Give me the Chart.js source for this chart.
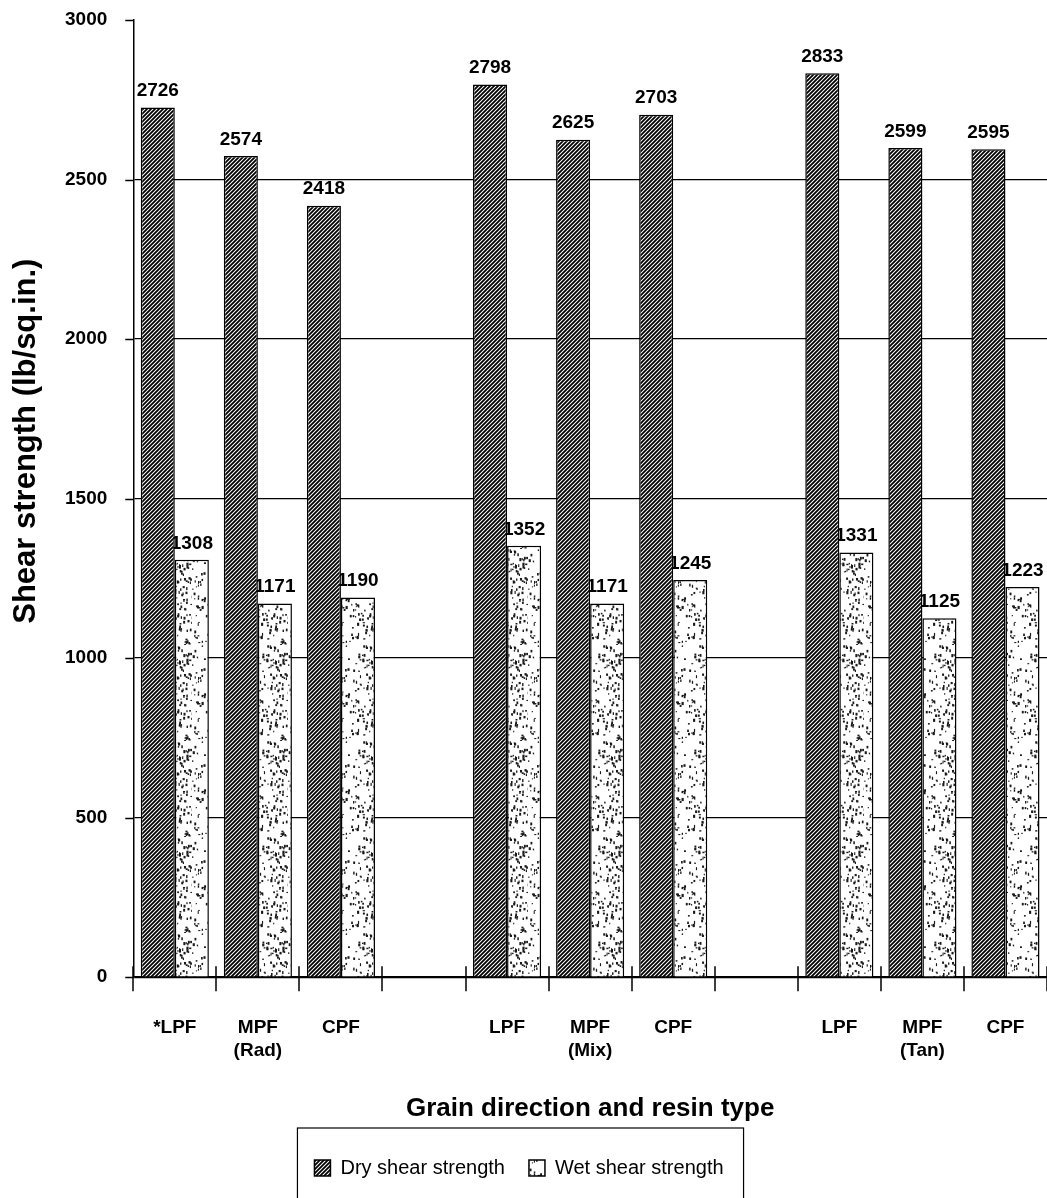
<!DOCTYPE html>
<html>
<head>
<meta charset="utf-8">
<script src="https://cdn.jsdelivr.net/npm/chart.js@4.4.0/dist/chart.umd.min.js"></script>
<style>
    html, body { margin: 0; padding: 0; background: #fff; }
    #wrap { width: 1047px; height: 1198px; }
</style>
</head>
<body>
<div id="wrap"><canvas id="shearChart"></canvas></div>
<script>
const categories = [['*LPF'], ['MPF', '(Rad)'], ['CPF'], [''], ['LPF'], ['MPF', '(Mix)'], ['CPF'], [''], ['LPF'], ['MPF', '(Tan)'], ['CPF']];
const dryShear = [2726, 2574, 2418, null, 2798, 2625, 2703, null, 2833, 2599, 2595];
const wetShear = [1308, 1171, 1190, null, 1352, 1171, 1245, null, 1331, 1125, 1223];
const yTicks = [0, 500, 1000, 1500, 2000, 2500, 3000];

const FONT = '"Liberation Sans", Arial, sans-serif';

document.addEventListener('DOMContentLoaded', () => {
    const canvas = document.getElementById('shearChart');
    const ctx = canvas.getContext('2d');

    // diagonal hatch for the dry bars
    function hatchPattern() {
        const c = document.createElement('canvas');
        c.width = 4; c.height = 4;
        const g = c.getContext('2d');
        g.fillStyle = '#fff';
        g.fillRect(0, 0, 4, 4);
        g.strokeStyle = '#000';
        g.lineWidth = 1.8;
        g.beginPath();
        g.moveTo(-1, 5); g.lineTo(5, -1);
        g.moveTo(-1, 1); g.lineTo(1, -1);
        g.moveTo(3, 5); g.lineTo(5, 3);
        g.stroke();
        return ctx.createPattern(c, 'repeat');
    }

    // speckled fill for the wet bars (fixed seed so it is the same every time)
    function stipplePattern() {
        const c = document.createElement('canvas');
        c.width = 48; c.height = 96;
        const g = c.getContext('2d');
        g.fillStyle = '#fff';
        g.fillRect(0, 0, 48, 96);
        g.fillStyle = '#1a1a1a';
        let seed = 7;
        const rnd = () => (seed = (seed * 16807) % 2147483647) / 2147483647;
        for (let i = 0; i < 190; i++) {
            g.fillRect(rnd() * 48, rnd() * 96, 1 + rnd() * 1.2, 1 + rnd() * 2.2);
        }
        return ctx.createPattern(c, 'repeat');
    }

    const labelFont = 'bold 19px ' + FONT;

    function drawLabels(chart, index) {
        const meta = chart.getDatasetMeta(index);
        const data = chart.data.datasets[index].data;
        const c = chart.ctx;
        c.save();
        c.font = labelFont;
        c.fillStyle = '#000';
        c.textAlign = 'center';
        c.textBaseline = 'bottom';
        meta.data.forEach((bar, i) => {
            if (data[i] == null) return;
            c.fillText(String(data[i]), bar.x, bar.y - 7);
        });
        c.restore();
    }

    // wet labels go down before the dry bars, so the dry bar hides the leading digit
    const valueLabels = {
        id: 'valueLabels',
        afterDatasetDraw(chart, args) {
            if (args.index === 1) drawLabels(chart, 1);
        },
        afterDatasetsDraw(chart) {
            drawLabels(chart, 0);
        },
    };

    // x ticks cross the axis line; y ticks are short stubs left of the axis
    const tickMarks = {
        id: 'tickMarks',
        afterDatasetsDraw(chart) {
            const x = chart.scales.x;
            const y = chart.scales.y;
            const { left, bottom } = chart.chartArea;
            const c = chart.ctx;
            c.save();
            c.strokeStyle = '#000';
            c.lineWidth = 1.5;
            c.beginPath();
            for (let i = 0; i <= categories.length; i++) {
                const px = Math.round(x.getPixelForValue(i - 0.5));
                c.moveTo(px, bottom - 11);
                c.lineTo(px, bottom + 14);
            }
            yTicks.forEach((v) => {
                const py = Math.round(y.getPixelForValue(v)) + 0.5;
                c.moveTo(left - 8, py);
                c.lineTo(left, py);
            });
            c.stroke();
            c.restore();
        },
    };

    const yTitle = {
        id: 'yTitle',
        afterDraw(chart) {
            const c = chart.ctx;
            const y = chart.scales.y;
            c.save();
            c.translate(26, y.getPixelForValue(1680));
            c.rotate(-Math.PI / 2);
            c.font = 'bold 31px ' + FONT;
            c.fillStyle = '#000';
            c.textAlign = 'center';
            c.textBaseline = 'middle';
            c.fillText('Shear strength (lb/sq.in.)', 0, 0);
            c.restore();
        },
    };

    // the legend sits a little left of the page centre in the original
    const legendShift = {
        id: 'legendShift',
        afterLayout(chart) {
            chart.legend.left -= 37;
            chart.legend.right -= 37;
        },
    };

    const legendFrame = {
        id: 'legendFrame',
        afterDraw(chart) {
            const boxes = chart.legend.legendHitBoxes;
            if (!boxes || !boxes.length) return;
            const first = boxes[0];
            const last = boxes[boxes.length - 1];
            const c = chart.ctx;
            c.save();
            c.strokeStyle = '#000';
            c.lineWidth = 1.2;
            c.strokeRect(first.left - 17, first.top - 30, last.left + last.width - first.left + 37, 120);
            c.restore();
        },
    };

    new Chart(canvas, {
        type: 'bar',
        data: {
            labels: categories,
            datasets: [{
                label: 'Dry shear strength',
                data: dryShear,
                backgroundColor: hatchPattern(),
                borderColor: '#000',
                borderWidth: 1.5,
                categoryPercentage: 0.82,
                barPercentage: 1.0,
            }, {
                label: 'Wet shear strength',
                data: wetShear,
                backgroundColor: stipplePattern(),
                borderColor: '#000',
                borderWidth: 1.5,
                categoryPercentage: 0.82,
                barPercentage: 1.0,
            }],
        },
        options: {
            responsive: true,
            maintainAspectRatio: false,
            animation: false,
            layout: { padding: { left: 65, top: 20, right: 0, bottom: 10 } },
            plugins: {
                tooltip: { enabled: false },
                legend: {
                    position: 'bottom',
                    labels: {
                        color: '#000',
                        font: { family: FONT, size: 20 },
                        boxWidth: 16,
                        boxHeight: 16,
                        padding: 24,
                    },
                },
            },
            scales: {
                x: {
                    grid: { display: false, tickLength: 35 },
                    border: { display: true, color: '#000', width: 1.5 },
                    ticks: {
                        color: '#000',
                        font: { family: FONT, size: 19, weight: 'bold' },
                        padding: 4,
                        maxRotation: 0,
                        autoSkip: false,
                    },
                    title: {
                        display: true,
                        text: 'Grain direction and resin type',
                        color: '#000',
                        font: { family: FONT, size: 26, weight: 'bold' },
                        padding: { top: 27, bottom: 10 },
                    },
                },
                y: {
                    min: 0,
                    max: 3000,
                    afterBuildTicks: (scale) => {
                        scale.ticks = yTicks.map((v) => ({ value: v }));
                    },
                    grid: {
                        color: (c) => (c.tick && c.tick.value === 3000 ? 'rgba(0,0,0,0)' : '#000'),
                        lineWidth: 1.3,
                        tickLength: 26,
                        tickColor: 'rgba(0,0,0,0)',
                    },
                    border: { color: '#000', width: 1.5 },
                    ticks: {
                        color: '#000',
                        font: { family: FONT, size: 19, weight: 'bold' },
                        padding: 0,
                        callback: (v) => String(v),
                    },
                },
            },
        },
        plugins: [valueLabels, tickMarks, yTitle, legendShift, legendFrame],
    });
});
</script>
</body>
</html>
